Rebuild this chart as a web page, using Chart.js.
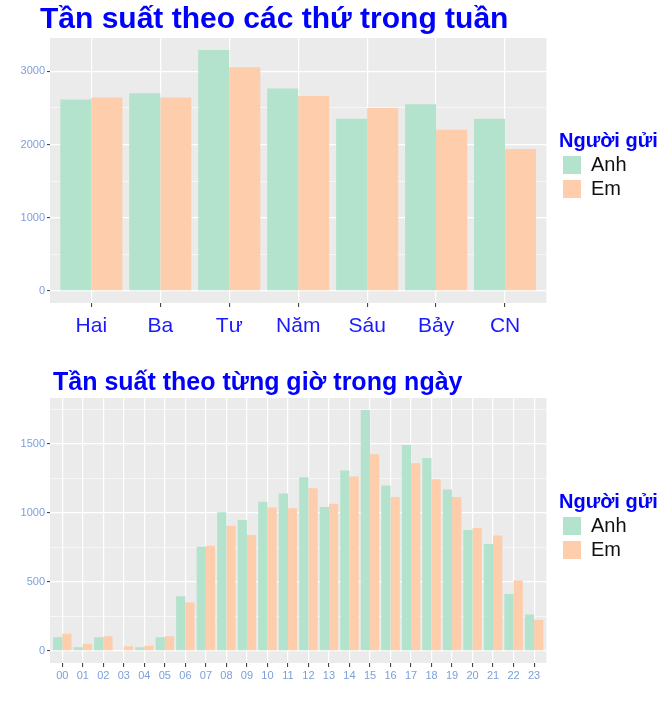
<!DOCTYPE html>
<html>
<head>
<meta charset="utf-8">
<script src="https://cdn.jsdelivr.net/npm/chart.js@4/dist/chart.umd.min.js"></script>
<style>
  body { margin: 0; background: #fff; }
  canvas { display: block; }
</style>
</head>
<body>
<canvas id="dayChart" width="660" height="350"></canvas>
<canvas id="hourChart" width="660" height="360"></canvas>
<script>
var days = ['Hai', 'Ba', 'Tư', 'Năm', 'Sáu', 'Bảy', 'CN'];
var dayAnh = [2614, 2700, 3290, 2764, 2352, 2551, 2352];
var dayEm = [2642, 2642, 3054, 2664, 2497, 2202, 1939];
var dayTicks = [0, 500, 1000, 1500, 2000, 2500, 3000];
var dayMajor = 1000;

var hours = ['00', '01', '02', '03', '04', '05', '06', '07', '08', '09', '10', '11',
             '12', '13', '14', '15', '16', '17', '18', '19', '20', '21', '22', '23'];
var hourAnh = [99, 26, 99, 5, 26, 99, 397, 756, 1006, 949, 1081, 1141,
               1259, 1043, 1307, 1746, 1199, 1493, 1399, 1170, 876, 775, 412, 265];
var hourEm = [125, 53, 106, 34, 38, 106, 352, 763, 908, 840, 1040, 1035,
              1180, 1067, 1264, 1425, 1115, 1360, 1245, 1115, 891, 836, 510, 226];
var hourTicks = [0, 250, 500, 750, 1000, 1250, 1500, 1750];
var hourMajor = 500;

var seriesNames = ['Anh', 'Em'];
var colAnh = '#B3E2CD';
var colEm = '#FDCDAC';
var font = "'Liberation Sans', Arial, sans-serif";

// grey ggplot panel behind the grid
var panelBg = {
  id: 'panelBg',
  beforeDraw: function (chart) {
    var a = chart.chartArea, c = chart.ctx;
    c.save();
    c.fillStyle = '#EBEBEB';
    c.fillRect(a.left, a.top, a.right - a.left, a.bottom - a.top);
    c.restore();
  }
};

// move title and legend to where ggplot puts them
var nudge = {
  id: 'nudge',
  afterLayout: function (chart, args, opts) {
    if (opts.titleLeft != null) {
      var t = chart.titleBlock;
      var tw = t.right - t.left;
      t.left = opts.titleLeft;
      t.right = opts.titleLeft + tw;
    }
    if (opts.legendLeft != null) {
      var l = chart.legend;
      l.left = opts.legendLeft;
      l.right = chart.width;
      l.top += opts.legendShift;
      l.bottom += opts.legendShift;
    }
  }
};

function pointsOf(vals) {
  return vals.map(function (v, i) { return { x: i, y: v }; });
}

function makeChart(id, cats, anh, em, yTicks, major, o) {
  var top = Math.max.apply(null, anh.concat(em));
  return new Chart(document.getElementById(id), {
    type: 'bar',
    data: {
      datasets: [
        { label: seriesNames[0], data: pointsOf(anh), backgroundColor: colAnh, borderWidth: 0 },
        { label: seriesNames[1], data: pointsOf(em), backgroundColor: colEm, borderWidth: 0 }
      ]
    },
    plugins: [panelBg, nudge],
    options: {
      responsive: false,
      animation: false,
      datasets: { bar: { categoryPercentage: 0.9, barPercentage: 1.0 } },
      layout: { padding: { right: 36 } },
      plugins: {
        nudge: { titleLeft: o.titleLeft, legendLeft: 559, legendShift: o.legendShift },
        tooltip: { enabled: false },
        title: {
          display: true,
          text: o.title,
          align: 'start',
          color: '#0000FF',
          font: { family: font, size: o.titleSize, weight: 'bold' },
          padding: o.titlePad
        },
        legend: {
          position: 'right',
          align: 'center',
          title: {
            display: true,
            text: 'Người gửi',
            position: 'start',
            color: '#0000FF',
            font: { family: font, size: 20, weight: 'bold', lineHeight: 1 },
            padding: 0
          },
          labels: {
            boxWidth: 18,
            boxHeight: 18,
            padding: 4,
            color: '#111',
            font: { family: font, size: 20 }
          }
        }
      },
      scales: {
        x: {
          type: 'linear',
          min: -0.6,
          max: cats.length - 0.4,
          offset: false,
          afterBuildTicks: function (s) {
            s.ticks = cats.map(function (c, i) { return { value: i }; });
          },
          afterFit: function (s) { s.height = 47; },
          ticks: {
            autoSkip: false,
            maxRotation: 0,
            padding: o.xPad,
            color: o.xColor,
            font: { family: font, size: o.xSize },
            callback: function (v) { return cats[v]; }
          },
          grid: {
            offset: false,
            color: '#FFFFFF',
            lineWidth: 1.2,
            tickColor: '#333333',
            tickLength: 4,
            tickWidth: 1
          },
          border: { display: false }
        },
        y: {
          min: -top * 0.05,
          max: top * 1.05,
          afterBuildTicks: function (s) {
            s.ticks = yTicks.filter(function (v) { return v <= s.max; })
                            .map(function (v) { return { value: v }; });
          },
          afterFit: function (s) { s.width = 50; },
          ticks: {
            padding: 2,
            color: '#7B9FD9',
            font: { family: font, size: 11 },
            callback: function (v) { return v % major === 0 ? String(v) : ''; }
          },
          grid: {
            color: '#FFFFFF',
            lineWidth: function (c) { return c.tick && c.tick.value % major === 0 ? 1.2 : 0.6; },
            tickColor: function (c) { return c.tick && c.tick.value % major === 0 ? '#333333' : 'rgba(0,0,0,0)'; },
            tickLength: 3,
            tickWidth: 1
          },
          border: { display: false }
        }
      }
    }
  });
}

makeChart('dayChart', days, dayAnh, dayEm, dayTicks, dayMajor, {
  title: 'Tần suất theo các thứ trong tuần',
  titleSize: 30,
  titlePad: { top: 2, bottom: 0 },
  titleLeft: 40,
  legendShift: -8,
  xSize: 21,
  xPad: 7,
  xColor: '#1A1AFF'
});

makeChart('hourChart', hours, hourAnh, hourEm, hourTicks, hourMajor, {
  title: 'Tần suất theo từng giờ trong ngày',
  titleSize: 25,
  titlePad: { top: 18, bottom: 0 },
  titleLeft: 53,
  legendShift: -2,
  xSize: 11,
  xPad: 2,
  xColor: '#7B9FD9'
});
</script>
</body>
</html>
